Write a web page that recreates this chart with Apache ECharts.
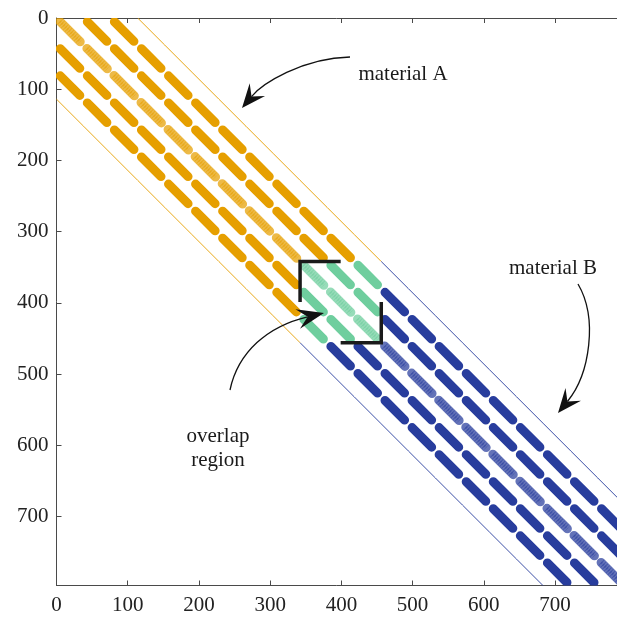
<!DOCTYPE html>
<html>
<head>
<meta charset="utf-8">
<script src="https://cdn.jsdelivr.net/npm/echarts@6/dist/echarts.min.js"></script>
<style>
  html, body { margin: 0; padding: 0; background: #ffffff; }
  #chart { width: 617px; height: 618px; }
</style>
</head>
<body>
<div id="chart"></div>
<script>
// Block boundaries of the assembled matrix (38 rows / columns per block)
const blockEdges = [0, 38, 76, 114, 152, 190, 228, 266, 304, 342, 380, 418, 456,
                    494, 532, 570, 608, 646, 684, 722, 760, 798];
// First and last block of each material, and the blocks they share
const materialABlocks = [0, 11];
const materialBBlocks = [9, 20];
const overlapBlocks = [9, 11];
// Block offsets from the diagonal and the way each band shows up in the pattern
const bandOffsets = [-3, -2, -1, 0, 1, 2, 3];
const bandKinds = ['thin', 'thick', 'thick', 'diag', 'thick', 'thick', 'thin'];
// Axis ticks
const xTicks = [0, 100, 200, 300, 400, 500, 600, 700];
const yTicks = [0, 100, 200, 300, 400, 500, 600, 700];
// Colours: material A, material B, overlap
const colorA = '#E69F00';
const colorB = '#283D9D';
const colorOverlap = '#6FCE9E';

const KIND_CODE = { thin: 0, thick: 1, diag: 2 };
const palette = [colorA, colorB, colorOverlap];

function inOverlap(i) { return i >= overlapBlocks[0] && i <= overlapBlocks[1]; }

// One entry per non-zero block: [x0, y0, x1, y1, kind, colourIndex]
function blockSegments(range, colorIndex, skipShared) {
  const out = [];
  for (let i = range[0]; i <= range[1]; i++) {
    bandOffsets.forEach(function (d, k) {
      const j = i + d;
      if (j < range[0] || j > range[1]) return;
      const shared = inOverlap(i) && inOverlap(j);
      if (shared && skipShared) return;
      out.push([blockEdges[j], blockEdges[i], blockEdges[j + 1], blockEdges[i + 1],
                KIND_CODE[bandKinds[k]], shared ? 2 : colorIndex]);
    });
  }
  return out;
}

const segments = blockSegments(materialABlocks, 0, false)
  .concat(blockSegments(materialBBlocks, 1, true));

// Corner brackets framing the shared blocks
const lo = blockEdges[overlapBlocks[0]];
const hi = blockEdges[overlapBlocks[1] + 1];
const mid = (lo + hi) / 2;
const bracketUpper = [[mid, lo], [lo, lo], [lo, mid]];
const bracketLower = [[hi, mid], [hi, hi], [mid, hi]];

const serif = '"Liberation Serif", "Times New Roman", serif';
const axisColor = '#4a4a4a';

function renderBlock(params, api) {
  const p0 = api.coord([api.value(0), api.value(1)]);
  const p1 = api.coord([api.value(2), api.value(3)]);
  const kind = api.value(4);
  const color = palette[api.value(5)];
  const dx = p1[0] - p0[0], dy = p1[1] - p0[1];
  const len = Math.sqrt(dx * dx + dy * dy);
  const ux = dx / len, uy = dy / len;
  if (kind === 0) {
    return { type: 'line', shape: { x1: p0[0], y1: p0[1], x2: p1[0], y2: p1[1] },
             style: { stroke: color, lineWidth: 1, opacity: 0.9 } };
  }
  const w = 9;
  const inset = kind === 1 ? w / 2 + 0.8 : w / 2 + 0.2;
  const shape = { x1: p0[0] + ux * inset, y1: p0[1] + uy * inset,
                  x2: p1[0] - ux * inset, y2: p1[1] - uy * inset };
  if (kind === 1) {
    return { type: 'line', shape: shape,
             style: { stroke: color, lineWidth: w, lineCap: 'round' } };
  }
  // main diagonal blocks: dense but speckled
  return { type: 'group', children: [
    { type: 'line', shape: shape, style: { stroke: color, lineWidth: w, lineCap: 'round', opacity: 0.72 } },
    { type: 'line', shape: shape, style: { stroke: color, lineWidth: w - 1.5, lineCap: 'butt', opacity: 0.5, lineDash: [1, 1.6] } },
    { type: 'line', shape: shape, style: { stroke: color, lineWidth: 2.5, lineCap: 'butt', opacity: 0.4, lineDash: [1.6, 1] } }
  ] };
}

function arrow(start, cp1, cp2, tip, headLen, headHalf) {
  const dx = tip[0] - cp2[0], dy = tip[1] - cp2[1];
  const l = Math.sqrt(dx * dx + dy * dy);
  const ux = dx / l, uy = dy / l, nx = -uy, ny = ux;
  const bx = tip[0] - ux * headLen, by = tip[1] - uy * headLen;
  const notch = [tip[0] - ux * headLen * 0.62, tip[1] - uy * headLen * 0.62];
  return [
    { type: 'bezierCurve', silent: true, z: 10,
      shape: { x1: start[0], y1: start[1], cpx1: cp1[0], cpy1: cp1[1], cpx2: cp2[0], cpy2: cp2[1],
               x2: notch[0], y2: notch[1] },
      style: { stroke: '#111111', lineWidth: 1.3, fill: null } },
    { type: 'polygon', silent: true, z: 10,
      shape: { points: [tip, [bx + nx * headHalf, by + ny * headHalf], notch, [bx - nx * headHalf, by - ny * headHalf]] },
      style: { fill: '#111111' } }
  ];
}

function label(text, x, y) {
  return { type: 'text', silent: true,
           style: { text: text, x: x, y: y, font: '21px ' + serif, fill: '#1a1a1a',
                    align: 'center', verticalAlign: 'middle',
                    textAlign: 'center', textVerticalAlign: 'middle' } };
}

const graphics = []
  .concat(arrow([350, 57], [302, 58], [262, 84], [242, 108], 24, 10))
  .concat(arrow([578, 284], [598, 318], [590, 374], [558, 413], 24, 10))
  .concat(arrow([230, 390], [238, 352], [268, 326], [324, 313], 27, 10))
  .concat([
    label('material A', 403, 74),
    label('material B', 553, 268),
    label('overlap', 218, 436),
    label('region', 218, 460)
  ]);

const chart = echarts.init(document.getElementById('chart'), null, { renderer: 'canvas' });

const xAxisBase = {
  type: 'value', min: 0, max: 787, interval: 100,
  axisLine: { show: true, onZero: false, lineStyle: { color: axisColor, width: 1 } },
  axisTick: { show: true, inside: true, length: 5, customValues: xTicks, lineStyle: { color: axisColor } },
  splitLine: { show: false }
};

chart.setOption({
  animation: false,
  backgroundColor: '#ffffff',
  grid: { left: 56.5, top: 18, right: 0, bottom: 32.5, containLabel: false, outerBoundsMode: 'none' },
  xAxis: [
    Object.assign({}, xAxisBase, {
      position: 'bottom',
      axisLabel: { show: true, customValues: xTicks, fontFamily: serif, fontSize: 21, color: '#222222', margin: 9 }
    }),
    Object.assign({}, xAxisBase, { position: 'top', axisLabel: { show: false } })
  ],
  yAxis: {
    type: 'value', min: 0, max: 797, interval: 100, inverse: true, position: 'left',
    axisLine: { show: true, onZero: false, lineStyle: { color: axisColor, width: 1 } },
    axisTick: { show: true, inside: true, length: 5, customValues: yTicks, lineStyle: { color: axisColor } },
    axisLabel: { show: true, customValues: yTicks, fontFamily: serif, fontSize: 21, color: '#222222', margin: 8 },
    splitLine: { show: false }
  },
  series: [
    {
      type: 'custom', name: 'pattern', clip: true,
      renderItem: renderBlock,
      encode: { x: [0, 2], y: [1, 3] },
      data: segments
    },
    {
      type: 'line', name: 'bracket upper', data: bracketUpper, symbol: 'none', clip: false,
      lineStyle: { color: '#1a1a1a', width: 3.5, join: 'miter', cap: 'butt' }
    },
    {
      type: 'line', name: 'bracket lower', data: bracketLower, symbol: 'none', clip: false,
      lineStyle: { color: '#1a1a1a', width: 3.5, join: 'miter', cap: 'butt' }
    }
  ],
  graphic: graphics
});
</script>
</body>
</html>
